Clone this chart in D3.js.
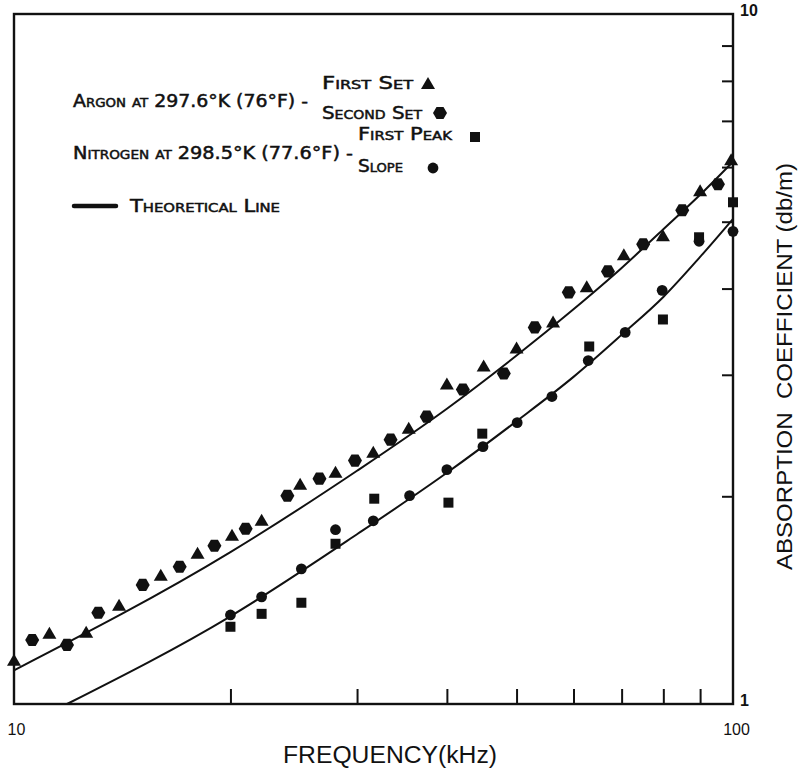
<!DOCTYPE html>
<html>
<head>
<meta charset="utf-8">
<script src="https://cdn.jsdelivr.net/npm/d3@7"></script>
<style>
  html, body { margin: 0; padding: 0; background: #fff; }
  svg { display: block; }
  .leg { font-family: "DejaVu Sans Condensed", "DejaVu Sans", sans-serif; font-stretch: condensed; font-variant: small-caps; font-size: 17px; fill: #111; stroke: #111; stroke-width: 0.45px; }
  .title { font-family: "Liberation Sans", Arial, sans-serif; fill: #111; }
</style>
</head>
<body>
<svg id="chart" width="799" height="770"></svg>
<script>
// ---- data ----
const freqTicks = [20, 30, 40, 50, 60, 70, 80, 90];
const absTicks = [2, 3, 4, 5, 6, 7, 8, 9];
const freqLabels = [10, 100];
const absLabels = [1, 10];

// Argon, first set (triangles)
const argonFirstFreq = [10, 11.2, 12.6, 14, 16, 18, 20.1, 22.1, 25, 28, 31.6, 35.4, 40, 45, 50, 56.2, 62.6, 70.5, 79.9, 90, 99.4];
const argonFirstAbs  = [1.155, 1.264, 1.268, 1.388, 1.534, 1.651, 1.753, 1.843, 2.079, 2.164, 2.313, 2.506, 2.904, 3.084, 3.275, 3.573, 4.017, 4.469, 4.762, 5.535, 6.14];

// Argon, second set (hexagons)
const argonSecondFreq = [10.6, 11.85, 13.1, 15.1, 17, 19, 21, 24, 26.6, 29.8, 33.4, 37.5, 42.1, 48, 53, 59.1, 67, 75, 85, 95.3];
const argonSecondAbs  = [1.238, 1.218, 1.356, 1.488, 1.581, 1.696, 1.795, 2.004, 2.121, 2.253, 2.416, 2.609, 2.856, 3.013, 3.514, 3.95, 4.236, 4.637, 5.194, 5.666];

// Nitrogen, first peak (squares)
const n2PeakFreq = [20, 22.1, 25.1, 28, 31.7, 40.2, 44.8, 63.1, 79.9, 89.7, 100];
const n2PeakAbs  = [1.294, 1.351, 1.402, 1.707, 1.984, 1.958, 2.465, 3.297, 3.608, 4.747, 5.335];

// Nitrogen, slope (circles)
const n2SlopeFreq = [20, 22.1, 25.1, 28, 31.6, 35.5, 40, 44.9, 50.1, 56, 62.9, 70.8, 79.7, 89.7, 100];
const n2SlopeAbs  = [1.346, 1.43, 1.57, 1.789, 1.843, 2.004, 2.186, 2.36, 2.557, 2.79, 3.146, 3.456, 3.977, 4.684, 4.842];

// Theoretical lines
const argonTheoryFreq = [10, 20, 30, 40, 50, 60, 70, 80, 90, 100];
const argonTheoryAbs  = [1.119, 1.660, 2.178, 2.679, 3.199, 3.733, 4.285, 4.875, 5.47, 6.11];
const n2TheoryFreq = [11.85, 20, 30, 40, 50, 60, 70, 80, 90, 100];
const n2TheoryAbs  = [1.0, 1.340, 1.762, 2.163, 2.570, 2.979, 3.428, 3.890, 4.446, 5.047];

// ---- drawing ----
const svg = d3.select("#chart");
const ink = "#111";
const x = d3.scaleLog().domain([10, 100]).range([14, 733]);
const y = d3.scaleLog().domain([1, 10]).range([704, 14]);

const zip = (a, b) => a.map((v, i) => [v, b[i]]);

// frame
svg.append("rect").attr("x", x(10)).attr("y", y(10))
  .attr("width", x(100) - x(10)).attr("height", y(1) - y(10))
  .attr("fill", "none").attr("stroke", ink).attr("stroke-width", 2.4);

// x ticks (pointing up, inside)
const xAxis = svg.append("g").attr("transform", `translate(0,${y(1)})`)
  .call(d3.axisTop(x).tickValues(freqTicks).tickSize(15).tickFormat(""));
xAxis.select(".domain").remove();
xAxis.selectAll("line").attr("stroke", ink).attr("stroke-width", 2);

// y ticks on right side pointing inward
const yAxis = svg.append("g").attr("transform", `translate(${x(100)},0)`)
  .call(d3.axisLeft(y).tickValues(absTicks).tickSize(11).tickFormat(""));
yAxis.select(".domain").remove();
yAxis.selectAll("line").attr("stroke", ink).attr("stroke-width", 2);

// x tick labels
const xLab = svg.append("g").attr("transform", `translate(0,${y(1)})`)
  .call(d3.axisBottom(x).tickValues(freqLabels).tickSize(0).tickPadding(20).tickFormat(d3.format("d")));
xLab.select(".domain").remove();
xLab.selectAll("text").attr("font-family", "Liberation Sans, Arial, sans-serif")
  .attr("font-size", 16).attr("fill", ink)
  .attr("dx", d => d === 10 ? 2 : 3);

// y tick labels
const yLab = svg.append("g").attr("transform", `translate(${x(100)},0)`)
  .call(d3.axisRight(y).tickValues(absLabels).tickSize(0).tickPadding(7).tickFormat(d3.format("d")));
yLab.select(".domain").remove();
yLab.selectAll("text").attr("font-family", "Liberation Sans, Arial, sans-serif")
  .attr("font-size", 16).attr("font-weight", "bold").attr("fill", ink)
  .attr("dy", d => d === 10 ? "0.1em" : "0.1em");

// theoretical lines
const line = d3.line().x(d => x(d[0])).y(d => y(d[1])).curve(d3.curveMonotoneX);
svg.append("path").datum(zip(argonTheoryFreq, argonTheoryAbs))
  .attr("d", line).attr("fill", "none").attr("stroke", ink).attr("stroke-width", 2);
svg.append("path").datum(zip(n2TheoryFreq, n2TheoryAbs))
  .attr("d", line).attr("fill", "none").attr("stroke", ink).attr("stroke-width", 2);

// marker shapes
const triPath = "M0,-7L7,5L-7,5Z";
const hexPath = (() => { const r = 7; const p = d3.range(6).map(i => { const a = Math.PI / 3 * i; return [r * Math.cos(a), r * Math.sin(a)]; }); return "M" + p.join("L") + "Z"; })();
const sqPath = "M-5,-5H5V5H-5Z";
const circPath = d3.symbol(d3.symbolCircle, Math.PI * 5.4 * 5.4)();

function plot(freqs, vals, path) {
  svg.append("g").selectAll("path").data(zip(freqs, vals)).join("path")
    .attr("d", path).attr("fill", ink)
    .attr("transform", d => `translate(${x(d[0])},${y(d[1])})`);
}
plot(argonSecondFreq, argonSecondAbs, hexPath);
plot(argonFirstFreq, argonFirstAbs, triPath);
plot(n2SlopeFreq, n2SlopeAbs, circPath);
plot(n2PeakFreq, n2PeakAbs, sqPath);

// legend
const leg = svg.append("g");
function legText(t, lx, ly, len) {
  leg.append("text").attr("class", "leg").attr("x", lx).attr("y", ly)
    .attr("textLength", len).attr("lengthAdjust", "spacingAndGlyphs").text(t);
}
legText("Argon at 297.6°K (76°F) -", 73, 107, 235);
legText("First Set", 322, 89, 91);
legText("Second Set", 322, 119, 100);
legText("Nitrogen at 298.5°K (77.6°F) -", 73, 159, 280);
legText("First Peak", 358, 140, 94);
legText("Slope", 358, 172, 45);
legText("Theoretical Line", 130, 212, 150);
leg.append("path").attr("d", triPath).attr("fill", ink).attr("transform", "translate(428,84)");
leg.append("path").attr("d", hexPath).attr("fill", ink).attr("transform", "translate(440,113)");
leg.append("path").attr("d", sqPath).attr("fill", ink).attr("transform", "translate(475,137)");
leg.append("path").attr("d", circPath).attr("fill", ink).attr("transform", "translate(433,168)");
leg.append("line").attr("x1", 74).attr("x2", 116).attr("y1", 206).attr("y2", 206)
  .attr("stroke", ink).attr("stroke-width", 4.5).attr("stroke-linecap", "round");

// axis titles
svg.append("text").attr("class", "title").attr("x", 390).attr("y", 763)
  .attr("text-anchor", "middle").attr("font-size", 23)
  .attr("textLength", 214).attr("lengthAdjust", "spacingAndGlyphs")
  .text("FREQUENCY(kHz)");
svg.append("text").attr("class", "title")
  .attr("transform", "translate(792,366.5) rotate(-90)")
  .attr("text-anchor", "middle").attr("font-size", 22)
  .attr("textLength", 407).attr("lengthAdjust", "spacingAndGlyphs")
  .attr("xml:space", "preserve").style("white-space", "pre")
  .text("ABSORPTION  COEFFICIENT (db/m)");
</script>
</body>
</html>
